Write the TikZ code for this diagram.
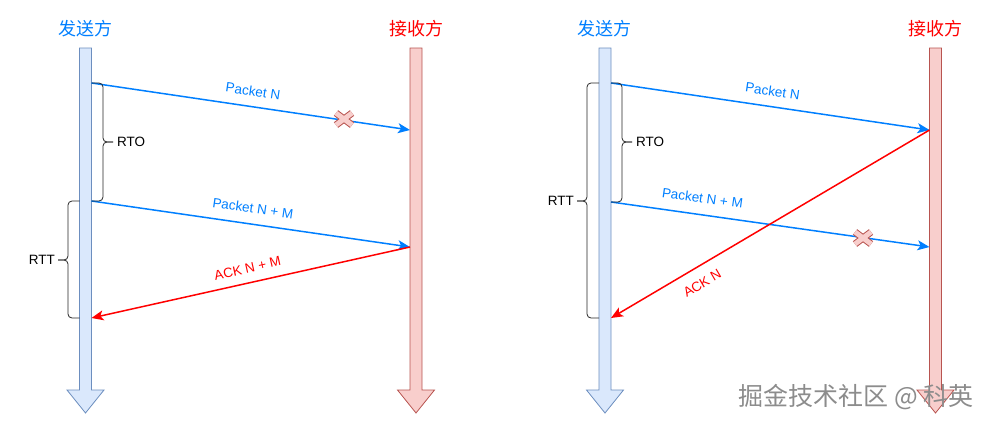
\documentclass[tikz,border=0pt]{standalone}
\usepackage{fontspec}
\setmainfont{Liberation Sans}
\newfontfamily\cjk{Noto Sans CJK SC}
\usepackage{xcolor}
\usetikzlibrary{arrows.meta}

\definecolor{sendblue}{HTML}{007FFF}
\definecolor{recvred}{HTML}{FF0000}
\definecolor{sendfill}{HTML}{DAE8FC}
\definecolor{sendline}{HTML}{6C8EBF}
\definecolor{recvfill}{HTML}{F8CECC}
\definecolor{recvline}{HTML}{B85450}

% lifeline: centre x, fill, stroke
\newcommand{\lifeline}[3]{%
  \draw[fill=#2,draw=#3,line width=0.8pt,line join=miter]
    (#1-6,48) -- (#1+6,48) -- (#1+6,390) -- (#1+18.5,390) -- (#1,413)
    -- (#1-18.5,390) -- (#1-6,390) -- cycle;}
% lost packet mark at x,y
\newcommand{\lostmark}[2]{%
  \draw[recvline,line width=7pt] (#1-8,#2-6) -- (#1+8,#2+6) (#1-8,#2+6) -- (#1+8,#2-6);
  \draw[recvfill,line width=5pt] (#1-8,#2-6) -- (#1+8,#2+6) (#1-8,#2+6) -- (#1+8,#2-6);}

\begin{document}
\begin{tikzpicture}[x=1pt,y=-1pt,>={Stealth[length=12pt,width=10pt,inset=3pt]},
  msg/.style={line width=1.5pt,->},
  lbl/.style={font=\fontsize{13.5}{15}\selectfont,inner sep=1pt},
  head/.style={font=\cjk\fontsize{18}{20}\selectfont},
  brc/.style={line width=0.8pt,black!85,rounded corners=4pt}]
  \useasboundingbox (0,0) rectangle (989,426);

  % ---- left: packet N lost, resent after RTO
  \lifeline{85.5}{sendfill}{sendline}
  \lifeline{416}{recvfill}{recvline}
  \node[head,text=sendblue] (snd1) at (85,29) {发送方};
  \node[head,text=recvred] (rcv1) at (416,29) {接收方};

  \coordinate (s1) at (91.5,83);
  \coordinate (s2) at (91.5,201);
  \coordinate (s3) at (91.5,318);
  \coordinate (r1) at (410,130);
  \coordinate (r2) at (410,247);

  \draw[msg,sendblue] (s1) -- (r1) node[lbl,midway,sloped,above=9pt] {Packet N};
  \lostmark{344}{119}
  \draw[msg,sendblue] (s2) -- (r2) node[lbl,midway,sloped,above=9pt] {Packet N + M};
  \draw[msg,recvred] (r2) -- (s3) node[lbl,midway,sloped,above=8pt] {ACK N + M};

  \draw[brc] (s1) -- (103,83) -- (103,142) -- (113,142);
  \draw[brc] (s2) -- (103,201) -- (103,142) -- (113,142);
  \node[lbl,anchor=west] (rto1) at (116,142) {RTO};
  \draw[brc] (79.5,201) -- (68,201) -- (68,260) -- (58,260);
  \draw[brc] (79.5,318) -- (68,318) -- (68,260) -- (58,260);
  \node[lbl,anchor=east] (rtt1) at (56,260) {RTT};

  % ---- right: packet N+M lost, ACK N comes back
  \lifeline{605}{sendfill}{sendline}
  \lifeline{935.5}{recvfill}{recvline}
  \node[head,text=sendblue] (snd2) at (604,29) {发送方};
  \node[head,text=recvred] (rcv2) at (935,29) {接收方};

  \coordinate (t1) at (611,83);
  \coordinate (t2) at (611,202);
  \coordinate (t3) at (611,318);
  \coordinate (q1) at (929.5,130);
  \coordinate (q2) at (929.5,247);

  \draw[msg,sendblue] (t1) -- (q1) node[lbl,midway,sloped,above=9pt] {Packet N};
  \draw[msg,sendblue] (t2) -- (q2) node[lbl,pos=0.28,sloped,above=10pt] {Packet N + M};
  \lostmark{863}{238}
  \draw[msg,recvred] (q1) -- (t3) node[lbl,pos=0.74,sloped,below=10pt] {ACK N};

  \draw[brc] (t1) -- (622,83) -- (622,142) -- (632,142);
  \draw[brc] (t2) -- (622,202) -- (622,142) -- (632,142);
  \node[lbl,anchor=west] (rto2) at (635,142) {RTO};
  \draw[brc] (599,83) -- (587,83) -- (587,201) -- (577,201);
  \draw[brc] (599,318) -- (587,318) -- (587,201) -- (577,201);
  \node[lbl,anchor=east] (rtt2) at (575,201) {RTT};

  \node[font=\cjk\fontsize{25}{27}\selectfont,text=black!45] (mark) at (856,397) {掘金技术社区 @ 科英};
\end{tikzpicture}
\end{document}
